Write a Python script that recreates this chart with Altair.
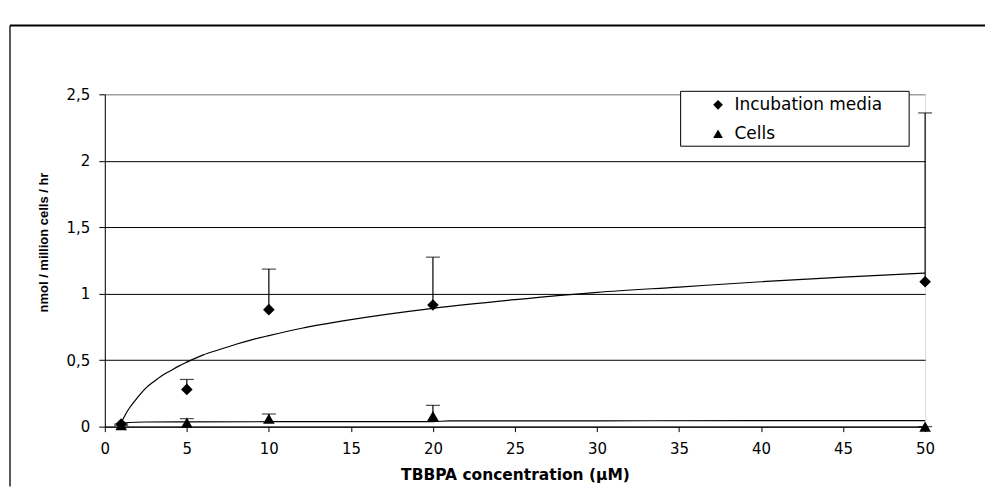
import altair as alt
import pandas as pd

# ---- data ----
conc = [1, 5, 10, 20, 50]
media_mean = [0.02, 0.28, 0.88, 0.915, 1.09]
media_upper = [0.02, 0.355, 1.185, 1.275, 2.36]
cells_mean = [0.01, 0.03, 0.06, 0.08, 0.0]
cells_upper = [0.01, 0.06, 0.095, 0.16, 0.0]

media_fit_x = [1, 1.25, 1.5, 1.75, 2, 2.5, 3, 3.5, 4, 4.5, 5, 6, 7, 8, 9, 10, 12, 15, 20, 25, 30, 35, 40, 45, 50]
media_fit_y = [0.03, 0.09, 0.14, 0.18, 0.22, 0.29, 0.34, 0.385, 0.42, 0.455, 0.485, 0.54, 0.58, 0.62, 0.655,
               0.685, 0.74, 0.805, 0.89, 0.955, 1.01, 1.05, 1.09, 1.125, 1.155]
cells_fit_x = [1, 2.5, 5, 10, 20, 21, 30, 40, 50]
cells_fit_y = [0.027, 0.035, 0.036, 0.037, 0.038, 0.043, 0.044, 0.045, 0.045]

series_names = ["Incubation media", "Cells"]
series_shapes = ["diamond", "triangle-up"]
x_ticks = list(range(0, 51, 5))
y_ticks = [0, 0.5, 1, 1.5, 2, 2.5]

# ---- tables ----
pts = pd.DataFrame({
    "series": [series_names[0]] * len(conc) + [series_names[1]] * len(conc),
    "x": conc + conc,
    "y": media_mean + cells_mean,
    "upper": media_upper + cells_upper,
})
fits = pd.DataFrame({
    "series": [series_names[0]] * len(media_fit_x) + [series_names[1]] * len(cells_fit_x),
    "x": media_fit_x + cells_fit_x,
    "y": media_fit_y + cells_fit_y,
})

W, H = 822, 333

x_enc = alt.X(
    "x:Q",
    scale=alt.Scale(domain=[0, 50], nice=False, zero=False),
    axis=alt.Axis(
        values=x_ticks, grid=False, tickSize=5, tickColor="black", domainColor="black",
        labelFont="DejaVu Sans", labelFontSize=15, labelColor="black", labelPadding=10,
        labelFlush=False,
        title="TBBPA concentration (µM)", titleFont="DejaVu Sans", titleFontWeight="bold",
        titleFontSize=15.5, titleColor="black", titleX=411, titleY=41,
    ),
)
y_enc = alt.Y(
    "y:Q",
    scale=alt.Scale(domain=[0, 2.5], nice=False),
    axis=alt.Axis(
        values=y_ticks, grid=True,
        gridColor={"condition": {"test": "datum.value == 2.5", "value": "#808080"}, "value": "black"},
        gridWidth=1, tickSize=6, tickColor="black", domainColor="black",
        labelExpr="replace(toString(datum.value), '.', ',')",
        labelFont="DejaVu Sans", labelFontSize=15, labelColor="black", labelPadding=9,
        labelFlush=False,
        title="nmol / million cells / hr", titleFont="Liberation Sans", titleFontWeight="bold",
        titleFontSize=13, titleColor="black", titleX=-54, titleY=148,
    ),
)

one = alt.Data(values=[{"k": 1}])

frame_top = alt.Chart(one).mark_rule(color="black", strokeWidth=2).encode(
    x=alt.value(-95), x2=alt.value(W + 60), y=alt.value(-69)
)
frame_left = alt.Chart(one).mark_rule(color="black", strokeWidth=1.3).encode(
    x=alt.value(-95), y=alt.value(-69), y2=alt.value(H + 60)
)

curves = alt.Chart(fits).mark_line(color="black", strokeWidth=1.2, interpolate="monotone").encode(
    x=x_enc, y=y_enc, detail="series:N"
)

err = alt.Chart(pts).mark_rule(color="black", strokeWidth=1.2).encode(
    x="x:Q", y="y:Q", y2="upper:Q"
)
caps = alt.Chart(pts).mark_tick(color="black", orient="horizontal", size=14, thickness=1.2).encode(
    x="x:Q", y="upper:Q"
)

legend_box = alt.Chart(one).mark_rect(fill="white", stroke="black", strokeWidth=1).encode(
    x=alt.value(577), x2=alt.value(806), y=alt.value(-3), y2=alt.value(52)
)

points = alt.Chart(pts).mark_point(filled=True, color="black", opacity=1, size=135).encode(
    x="x:Q",
    y="y:Q",
    shape=alt.Shape(
        "series:N",
        scale=alt.Scale(domain=series_names, range=series_shapes),
        legend=alt.Legend(
            title=None, orient="none", legendX=601, legendY=-3, padding=5, rowPadding=11,
            labelFont="DejaVu Sans", labelFontSize=17, labelColor="black", labelOffset=8,
            symbolSize=95, symbolFillColor="black", symbolStrokeColor="black",
            symbolStrokeWidth=0,
        ),
    ),
)

chart = alt.layer(
    frame_top, frame_left, curves, err, caps, legend_box, points
).properties(
    width=W, height=H,
    autosize=alt.AutoSizeParams(type="none"),
    padding={"left": 97, "top": 86, "right": 60, "bottom": 60},
).configure_view(
    stroke="#808080", strokeWidth=1
).configure(background="white")

chart.save("out.html", embed_options={"renderer": "svg", "actions": False})
